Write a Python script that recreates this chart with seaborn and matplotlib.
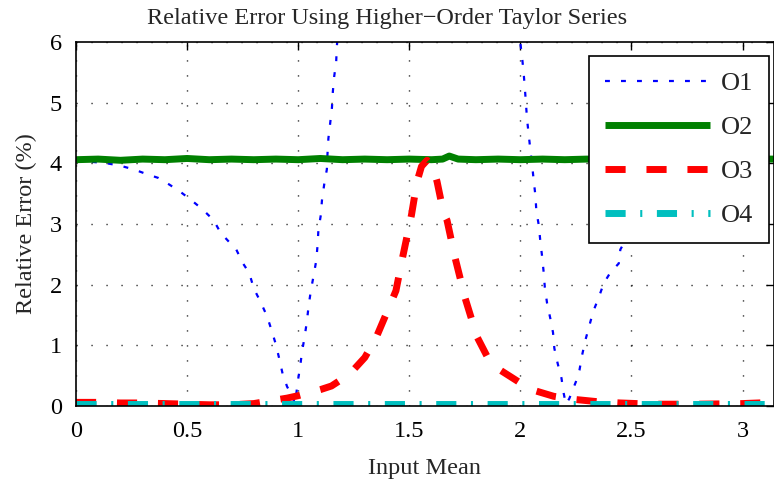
import matplotlib
matplotlib.use("Agg")
import matplotlib.pyplot as plt
import numpy as np
import pandas as pd
import seaborn as sns

# O1: first-order, two visible branches (gap above 6 between them)
o1_x = [0.0, 0.14, 0.2, 0.26, 0.32, 0.37, 0.42, 0.47, 0.52, 0.57, 0.62, 0.65,
        0.69, 0.72, 0.75, 0.78, 0.80, 0.83, 0.86, 0.88, 0.90, 0.916, 0.93, 0.95,
        0.975, 0.986, 0.998, 1.009, 1.017, 1.029, 1.039, 1.047, 1.057, 1.069,
        1.081, 1.087, 1.091, 1.102, 1.107, 1.117, 1.129, 1.132, 1.136, 1.144,
        1.152, 1.156, 1.162, 1.171, 1.174, 1.19,
        1.99, 2.0, 2.008, 2.015, 2.023, 2.03, 2.038, 2.045, 2.053, 2.06, 2.068,
        2.072, 2.083, 2.09, 2.098, 2.105, 2.11, 2.12, 2.135, 2.147, 2.153, 2.168,
        2.185, 2.195, 2.205, 2.22, 2.25, 2.266, 2.278, 2.293, 2.311, 2.327, 2.352,
        2.375, 2.405, 2.443, 2.45, 2.5, 2.6, 2.7, 2.8, 2.9, 3.0, 3.08]
o1_y = [4.05, 4.0, 3.96, 3.9, 3.82, 3.76, 3.65, 3.53, 3.39, 3.24, 3.06, 2.86,
        2.70, 2.59, 2.36, 2.19, 1.94, 1.72, 1.48, 1.25, 1.01, 0.76, 0.53, 0.32,
        0.15, 0.03, 0.40, 0.65, 0.89, 1.14, 1.39, 1.65, 1.90, 2.14,
        2.39, 2.64, 2.90, 3.15, 3.39, 3.65, 3.90, 4.16, 4.41, 4.66,
        4.92, 5.18, 5.43, 5.67, 5.93, 6.6,
        6.6, 5.98, 5.74, 5.48, 5.1, 4.73, 4.46, 4.22, 3.97, 3.72, 3.46,
        3.21, 2.98, 2.71, 2.46, 2.2, 1.96, 1.70, 1.44, 1.21, 0.95, 0.70,
        0.46, 0.21, 0.03, 0.12, 0.40, 0.59, 0.84, 1.09, 1.33, 1.55, 1.78,
        2.02, 2.20, 2.35, 2.58, 2.9, 3.4, 3.9, 4.4, 4.8, 5.2, 5.4]

# O2: flat line with small wobble
o2_x = [0.0, 0.1, 0.2, 0.3, 0.4, 0.5, 0.6, 0.7, 0.8, 0.9, 1.0, 1.1, 1.2, 1.3,
        1.4, 1.5, 1.6, 1.65, 1.68, 1.72, 1.8, 1.9, 2.0, 2.1, 2.2, 2.3, 2.4,
        2.5, 2.6, 2.7, 2.8, 2.9, 3.0, 3.1, 3.1416]
o2_y = [4.06, 4.07, 4.05, 4.07, 4.06, 4.08, 4.06, 4.07, 4.06, 4.07, 4.06, 4.08,
        4.06, 4.07, 4.06, 4.07, 4.06, 4.07, 4.12, 4.07, 4.06, 4.07, 4.06, 4.07,
        4.06, 4.07, 4.06, 4.07, 4.06, 4.07, 4.06, 4.07, 4.06, 4.07, 4.07]

# O3: peak near pi/2
o3_x = [0.0, 0.1, 0.2, 0.3, 0.4, 0.5, 0.6, 0.7, 0.8, 0.9, 0.95, 1.0, 1.05,
        1.1, 1.15, 1.2, 1.25, 1.3, 1.35, 1.4, 1.44, 1.47, 1.51, 1.535, 1.555,
        1.58, 1.605, 1.625, 1.655, 1.67, 1.707, 1.752, 1.805, 1.85, 1.91, 2.0,
        2.068, 2.15, 2.24, 2.35, 2.45, 2.6, 2.8, 3.0, 3.1416]
o3_y = [0.06, 0.06, 0.05, 0.05, 0.04, 0.03, 0.02, 0.02, 0.04, 0.1, 0.13, 0.17,
        0.22, 0.27, 0.33, 0.45, 0.6, 0.8, 1.12, 1.55, 1.9, 2.45, 3.15, 3.7, 3.95,
        4.05, 3.95, 3.7, 3.17, 3.06, 2.43, 1.77, 1.14, 0.82, 0.59, 0.38,
        0.25, 0.16, 0.11, 0.07, 0.05, 0.03, 0.03, 0.04, 0.06]

# O4: essentially zero
o4_x = [0.0, 0.5, 1.0, 1.5, 2.0, 2.5, 3.0, 3.1416]
o4_y = [0.03, 0.03, 0.03, 0.03, 0.03, 0.03, 0.03, 0.03]

series_names = ["O1", "O2", "O3", "O4"]
x_ticks = [0, 0.5, 1, 1.5, 2, 2.5, 3]
x_tick_labels = ["0", "0.5", "1", "1.5", "2", "2.5", "3"]
y_ticks = [0, 1, 2, 3, 4, 5, 6]

sns.set_theme(style="white")
plt.rcParams["font.family"] = ["Liberation Serif", "DejaVu Serif"]

fig = plt.figure(figsize=(7.74, 4.84), dpi=100)
ax = fig.add_axes([76 / 774, 78 / 484, 698 / 774, 364 / 484])

styles = {
    "O1": dict(color="#0000ff", lw=1.6, dashes=(2.2, 5.0)),
    "O2": dict(color="#008000", lw=5.0, dashes=None),
    "O3": dict(color="#ff0000", lw=5.0, dashes=(2.9, 3.0)),
    "O4": dict(color="#00bfbf", lw=5.0, dashes=(2.9, 2.1, 0.3, 2.1)),
}
data = {"O1": (o1_x, o1_y), "O2": (o2_x, o2_y), "O3": (o3_x, o3_y), "O4": (o4_x, o4_y)}

for name in series_names:
    xs, ys = data[name]
    df = pd.DataFrame({"x": xs, "y": ys})
    st = styles[name]
    sns.lineplot(data=df, x="x", y="y", ax=ax, color=st["color"], lw=st["lw"],
                 label=name, sort=False, estimator=None)
    line = ax.get_lines()[-1]
    if st["dashes"] is not None:
        line.set_dashes(st["dashes"])
    line.set_solid_capstyle("butt")
    line.set_dash_capstyle("butt")

ax.set_xlim(0, np.pi)
ax.set_ylim(0, 6)
ax.set_xticks(x_ticks)
ax.set_xticklabels(x_tick_labels)
ax.set_yticks(y_ticks)
ax.set_yticklabels([str(v) for v in y_ticks])
ax.grid(True, color="black", linestyle=(0, (0.8, 10)), linewidth=1.0)
ax.tick_params(direction="in", length=6, width=1, labelsize=17.5, top=True,
               right=True, colors="black")
ax.tick_params(axis="x", pad=11)
ax.tick_params(axis="y", pad=10)
for sp in ax.spines.values():
    sp.set_color("black")
    sp.set_linewidth(1.2)

ax.set_xlabel("Input Mean", fontsize=17.5, labelpad=11)
ax.set_ylabel("Relative Error (%)", fontsize=17.5, labelpad=9)
# title is centred on the figure (axes run off the right edge)
ax.set_title("Relative Error Using Higher\u2212Order Taylor Series", fontsize=17.5,
             x=(387 - 76) / 698, pad=13)

leg = ax.legend(loc="upper right", bbox_to_anchor=(0.993, 0.962), fontsize=19,
                frameon=True, fancybox=False, framealpha=1, edgecolor="black",
                handlelength=4.0, handletextpad=0.4, borderpad=0.6,
                labelspacing=0.78, borderaxespad=0)
leg.get_frame().set_linewidth(1.2)

fig.savefig("out.png", dpi=100)
